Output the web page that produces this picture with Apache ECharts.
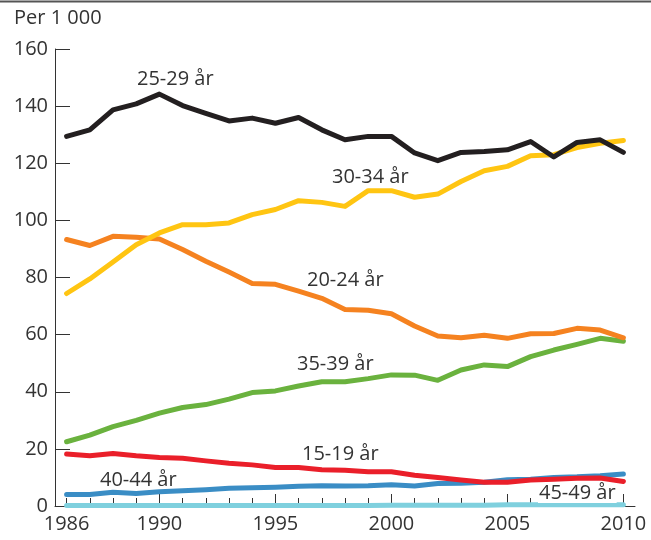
<!DOCTYPE html>
<html>
<head>
<meta charset="utf-8">
<script src="https://cdn.jsdelivr.net/npm/echarts@6/dist/echarts.min.js"></script>
<style>
html,body{margin:0;padding:0;background:#fff;}
#c{width:651px;height:540px;}
</style>
</head>
<body>
<div id="c"></div>
<script>
const years = ['1986','1987','1988','1989','1990','1991','1992','1993','1994','1995','1996','1997','1998','1999','2000','2001','2002','2003','2004','2005','2006','2007','2008','2009','2010'];
const yTicks = [0,20,40,60,80,100,120,140,160];
const age15_19 = [18.2,17.6,18.4,17.6,17.0,16.7,15.8,15.0,14.4,13.5,13.5,12.7,12.5,12.0,12.0,10.8,10.0,9.1,8.3,8.3,9.1,9.4,9.7,9.8,8.6];
const age20_24 = [93.3,91.2,94.4,94.1,93.5,89.8,85.7,81.9,77.9,77.6,75.2,72.7,68.8,68.5,67.3,63.0,59.5,58.9,59.8,58.7,60.3,60.4,62.2,61.6,58.9];
const age25_29 = [129.4,131.7,138.7,140.8,144.2,140.2,137.5,134.8,135.8,134.0,136.0,131.7,128.2,129.4,129.4,123.6,120.9,123.8,124.1,124.7,127.6,122.2,127.3,128.2,123.8];
const age30_34 = [74.4,79.5,85.4,91.5,95.6,98.5,98.5,99.1,102.0,103.8,106.9,106.3,104.9,110.4,110.4,108.1,109.2,113.6,117.4,118.9,122.6,123.0,125.5,127.0,128.0];
const age35_39 = [22.5,24.8,27.8,30.0,32.5,34.5,35.5,37.4,39.7,40.3,42.0,43.5,43.5,44.6,45.9,45.8,44.0,47.6,49.4,48.8,52.3,54.6,56.6,58.7,57.7];
const age40_44 = [4.0,4.0,4.8,4.4,5.0,5.3,5.7,6.2,6.4,6.6,6.9,7.1,7.0,7.1,7.4,7.0,7.9,8.0,8.3,9.2,9.4,10.0,10.2,10.6,11.2];
const age45_49 = [0.2,0.2,0.2,0.2,0.2,0.2,0.2,0.2,0.2,0.2,0.2,0.2,0.2,0.2,0.3,0.3,0.3,0.3,0.3,0.4,0.4,0.4,0.4,0.4,0.4];
const seriesNames = ['45-49 år','40-44 år','15-19 år','35-39 år','20-24 år','30-34 år','25-29 år'];

const FONT = '"Open Sans", "Noto Sans", sans-serif';
const TXT = '#333333';
const chart = echarts.init(document.getElementById('c'), null, {renderer:'canvas'});

function line(name, data, color){
  return {name, type:'line', data, symbol:'none', smooth:false,
    lineStyle:{color, width:5, cap:'round', join:'round'}, itemStyle:{color}};
}
function label(text, x, y, bg){
  return {type:'text', left:x, top:y, z:100,
    style:{text, font:'20px ' + FONT, fill:TXT,
      backgroundColor: bg ? '#fff' : undefined, padding: bg ? [0,1,0,1] : 0}};
}

chart.setOption({
  animation:false,
  backgroundColor:'#fff',
  grid:{left:55, right:16, top:49, bottom:34, containLabel:false},
  xAxis:[
    {type:'category', data:years, boundaryGap:true, position:'bottom',
     axisLine:{show:true, lineStyle:{color:TXT, width:1}},
     axisTick:{show:true, inside:true, length:8, alignWithLabel:true, interval:0, lineStyle:{color:TXT}},
     axisLabel:{show:false}, splitLine:{show:false}},
    {type:'category', data:years, boundaryGap:true, position:'bottom',
     axisLine:{show:false},
     axisTick:{show:true, inside:true, length:12, alignWithLabel:true,
       interval:(i, v)=> (+v) % 5 === 0, lineStyle:{color:TXT}},
     axisLabel:{show:true, margin:8, color:TXT, fontSize:20, fontFamily:FONT,
       interval:(i, v)=> i === 0 || (+v) % 5 === 0},
     splitLine:{show:false}}
  ],
  yAxis:{type:'value', min:yTicks[0], max:yTicks[yTicks.length-1], interval:20,
    axisLine:{show:true, lineStyle:{color:TXT, width:1}},
    axisTick:{show:true, inside:true, length:15, lineStyle:{color:TXT}},
    axisLabel:{margin:7, color:TXT, fontSize:20, fontFamily:FONT},
    splitLine:{show:false}},
  series:[
    line(seriesNames[0], age45_49, '#7fd0de'),
    line(seriesNames[1], age40_44, '#3a8dc5'),
    line(seriesNames[2], age15_19, '#ea1f2a'),
    line(seriesNames[3], age35_39, '#6ab23e'),
    line(seriesNames[4], age20_24, '#f58220'),
    line(seriesNames[5], age30_34, '#ffc512'),
    line(seriesNames[6], age25_29, '#231f20')
  ],
  graphic:[
    {type:'line', shape:{x1:0, y1:1.5, x2:651, y2:1.5}, style:{stroke:'#555', lineWidth:2}},
    {type:'text', left:14, top:8, style:{text:'Per 1 000', font:'20px ' + FONT, fill:TXT}},
    label('25-29 år', 137, 69),
    label('30-34 år', 332, 167),
    label('20-24 år', 307, 270),
    label('35-39 år', 297, 354),
    label('15-19 år', 302, 444),
    label('40-44 år', 100, 470),
    label('45-49 år', 538, 483, true)
  ]
});
</script>
</body>
</html>
